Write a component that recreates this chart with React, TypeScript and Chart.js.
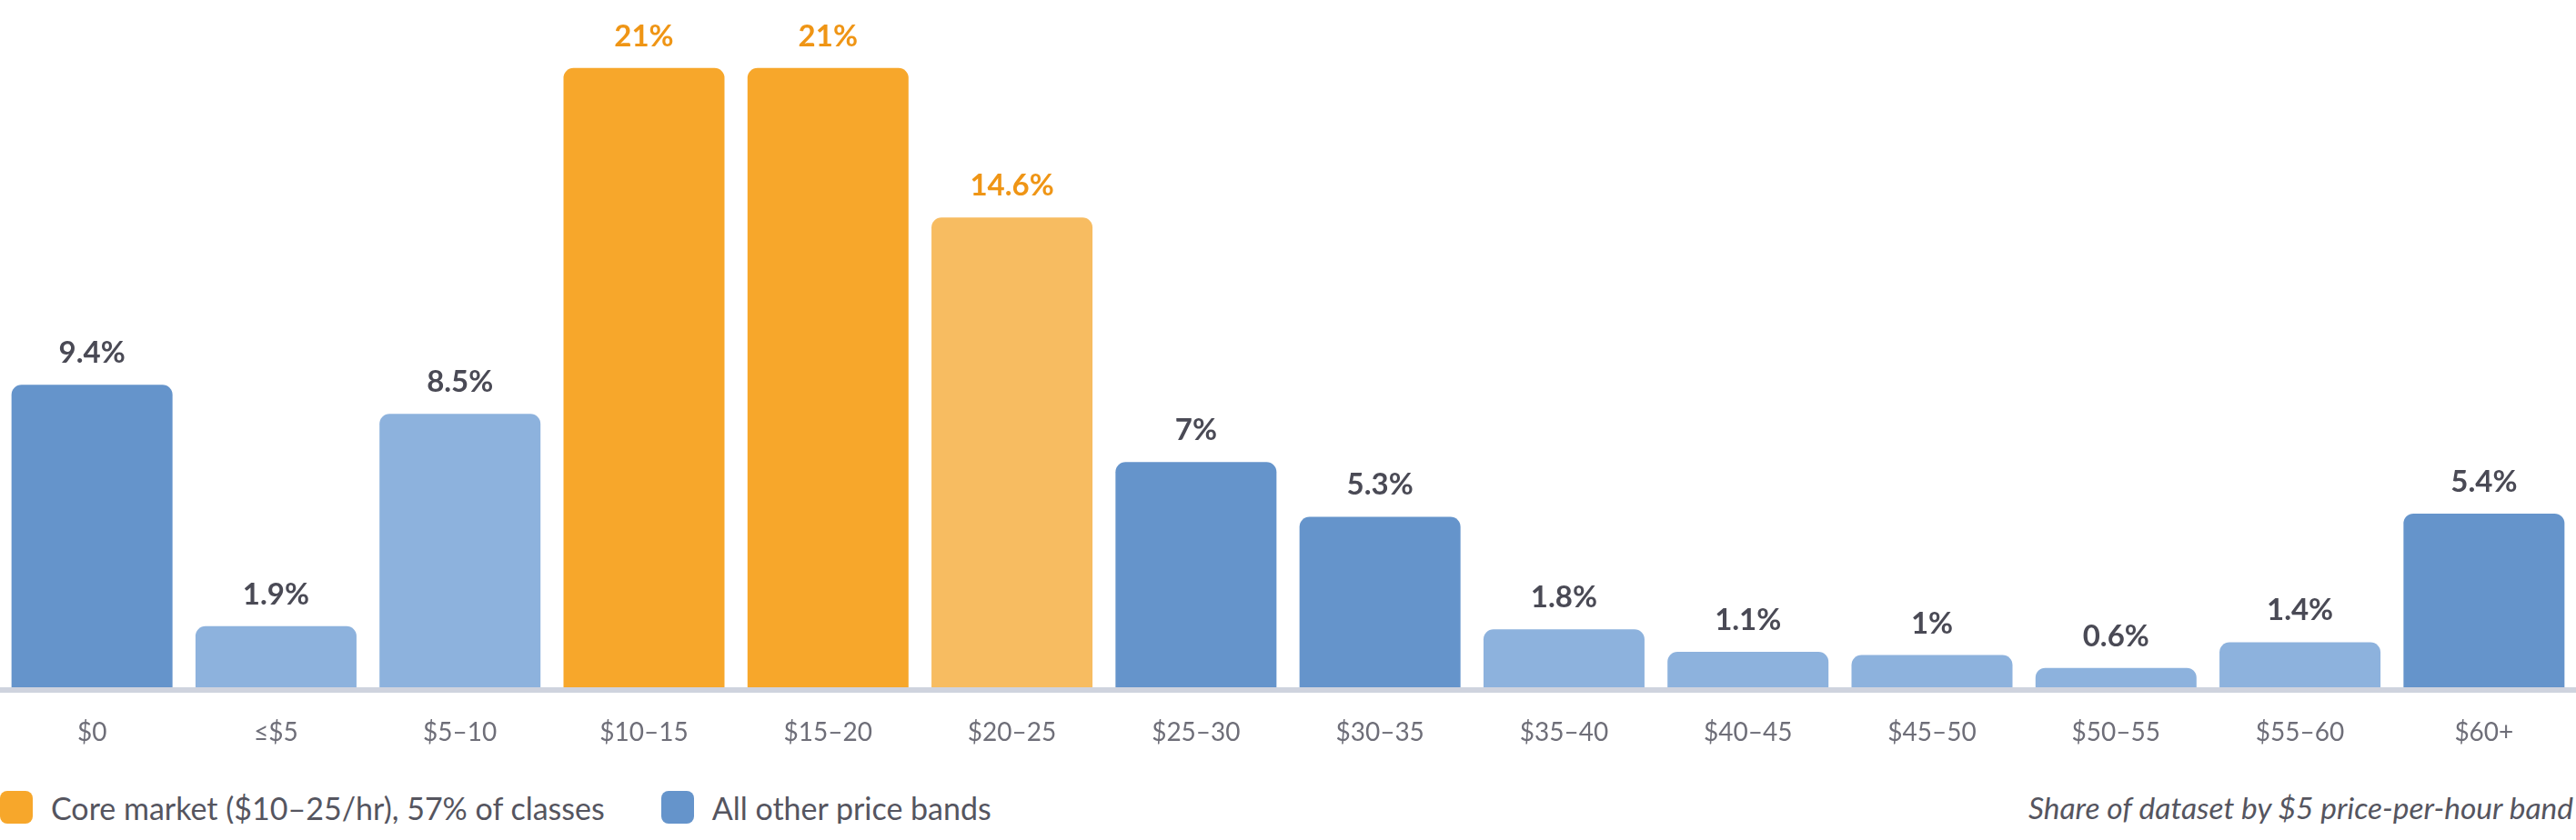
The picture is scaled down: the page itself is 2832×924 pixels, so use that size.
import React, { useEffect, useRef } from "react";
import { Chart, registerables } from "chart.js";

Chart.register(...registerables);

// price bands, share of classes in each (%)
const bands = [
  "$0", "≤$5", "$5–10", "$10–15", "$15–20", "$20–25", "$25–30",
  "$30–35", "$35–40", "$40–45", "$45–50", "$50–55", "$55–60", "$60+",
];
const shares = [9.4, 1.9, 8.5, 21, 21, 14.6, 7, 5.3, 1.8, 1.1, 1, 0.6, 1.4, 5.4];
const shareLabels = ["9.4%", "1.9%", "8.5%", "21%", "21%", "14.6%", "7%", "5.3%", "1.8%", "1.1%", "1%", "0.6%", "1.4%", "5.4%"];
// the tallest bars are drawn capped in the original
const BAR_CAP = 19.25;
const Y_MAX = 21.36;

const legendItems = ["Core market ($10–25/hr), 57% of classes", "All other price bands"];
const note = "Share of dataset by $5 price-per-hour band";

const DARK = "#6594CB";
const LIGHT = "#8DB2DD";
const ORANGE = "#F7A72B";
const ORANGE_LIGHT = "#F7BC61";
const barColors = [DARK, LIGHT, LIGHT, ORANGE, ORANGE, ORANGE_LIGHT, DARK, DARK, LIGHT, LIGHT, LIGHT, LIGHT, LIGHT, DARK];
const labelColors = barColors.map((c) => (c === ORANGE || c === ORANGE_LIGHT ? "#EF9515" : "#4A4A55"));

const FONT = "Lato, 'Noto Sans', sans-serif";

const valueLabels = {
  id: "valueLabels",
  afterDatasetsDraw(chart: Chart) {
    const ctx = chart.ctx;
    const meta = chart.getDatasetMeta(0);
    ctx.save();
    ctx.font = `bold 33px ${FONT}`;
    ctx.textAlign = "center";
    ctx.textBaseline = "alphabetic";
    meta.data.forEach((bar: any, i: number) => {
      ctx.fillStyle = labelColors[i];
      ctx.fillText(shareLabels[i], bar.x, bar.y - 24);
    });
    ctx.restore();
  },
};

const baseline = {
  id: "baseline",
  afterDatasetsDraw(chart: Chart) {
    const { ctx, chartArea } = chart;
    ctx.save();
    ctx.fillStyle = "#CFD3DE";
    ctx.fillRect(0, chartArea.bottom, chart.width, 6);
    ctx.restore();
  },
};

const App: React.FC = () => {
  const canvasRef = useRef<HTMLCanvasElement | null>(null);
  const chartRef = useRef<Chart | null>(null);

  useEffect(() => {
    document.body.style.margin = "0";
    const ctx = canvasRef.current?.getContext("2d");
    if (!ctx) return;
    if (chartRef.current) chartRef.current.destroy();

    chartRef.current = new Chart(ctx, {
      type: "bar",
      data: {
        labels: bands,
        datasets: [
          {
            data: shares.map((v) => Math.min(v, BAR_CAP)),
            backgroundColor: barColors,
            borderRadius: { topLeft: 11, topRight: 11, bottomLeft: 0, bottomRight: 0 },
            borderSkipped: false,
            barPercentage: 0.875,
            categoryPercentage: 1,
          },
        ],
      },
      options: {
        responsive: false,
        animation: false,
        layout: { padding: 0 },
        plugins: { legend: { display: false }, tooltip: { enabled: false } },
        scales: {
          x: {
            grid: { display: false },
            border: { display: false },
            ticks: {
              color: "#6E6E78",
              font: { family: FONT, size: 28 },
              padding: 25,
            },
            afterFit: (scale: any) => {
              scale.height = 65;
            },
          },
          y: { display: false, min: 0, max: Y_MAX },
        },
      },
      plugins: [baseline, valueLabels],
    });

    return () => {
      if (chartRef.current) {
        chartRef.current.destroy();
        chartRef.current = null;
      }
    };
  }, []);

  const swatch = (color: string): React.CSSProperties => ({
    width: 36,
    height: 36,
    borderRadius: 8,
    background: color,
    marginRight: 20,
    flex: "none",
  });

  return (
    <div style={{ width: 2832, fontFamily: FONT }}>
      <canvas ref={canvasRef} width={2832} height={821} style={{ display: "block" }} />
      <div
        style={{
          display: "flex",
          alignItems: "center",
          height: 36,
          marginTop: 49,
          fontSize: 34,
          color: "#55555F",
        }}
      >
        <div style={swatch(ORANGE)} />
        <span style={{ marginRight: 62 }}>{legendItems[0]}</span>
        <div style={swatch(DARK)} />
        <span>{legendItems[1]}</span>
        <span style={{ marginLeft: "auto", marginRight: 3, fontStyle: "italic", fontSize: 33.5 }}>{note}</span>
      </div>
    </div>
  );
};

export default App;
